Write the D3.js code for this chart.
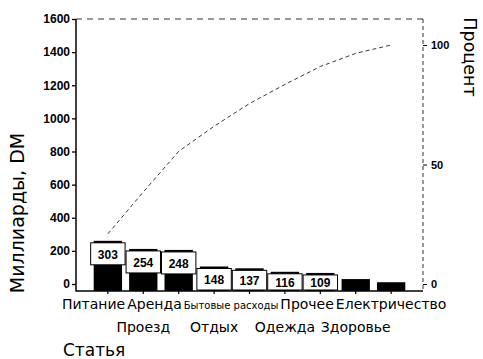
<!DOCTYPE html>
<html><head><meta charset="utf-8">
<script src="https://cdn.jsdelivr.net/npm/d3@7"></script>
<style>body{margin:0;background:#fff} svg{display:block;background:#fff}</style>
</head><body>
<svg id="c" width="483" height="359"></svg>
<script>
// ---- data ----
const categories = ["Питание","Проезд","Аренда","Отдых","Бытовые расходы","Одежда","Прочее","Здоровье","Електричество"];
const values = [303, 254, 248, 148, 137, 116, 109, 72, 53];
const cumPercent = [21, 38.5, 55.5, 66, 75.5, 83.5, 91, 96.5, 100];
const leftTicks = [0, 200, 400, 600, 800, 1000, 1200, 1400, 1600];
const rightTicks = [0, 50, 100];
const yTitle = "Миллиарды, DM";
const y2Title = "Процент";
const xTitle = "Статья";

// ---- layout ----
const svg = d3.select("#c");
const L = 76, R = 423, T = 19, B = 291;
const x = d3.scaleBand().domain(categories).range([L, R]).paddingInner(0).paddingOuter(0.4);
const yAxisScale = d3.scaleLinear().domain([0, 1600]).range([284, T]);
const yBar = d3.scaleLinear().domain([0, 1600]).range([B, B - (284 - T)]);
const yPct = d3.scaleLinear().domain([0, 100]).range([284, 45]);
const cx = c => x(c) + x.bandwidth() / 2;
const numFont = "'Liberation Sans', Arial, sans-serif";
const txtFont = "'DejaVu Sans', sans-serif";

// bars
const bw = x.bandwidth() * 0.8;
svg.append("g").selectAll("rect").data(values).join("rect")
  .attr("x", (d, i) => x(categories[i]) + (x.bandwidth() - bw) / 2)
  .attr("y", d => yBar(d))
  .attr("width", bw)
  .attr("height", d => B - yBar(d))
  .attr("fill", "#000");

// value boxes
const boxH = 22;
const lab = svg.append("g");
values.forEach((v, i) => {
  if (v < 100) return;
  const top = yBar(v) + 2;
  const bot = Math.min(top + boxH, B - 1);
  lab.append("rect")
    .attr("x", x(categories[i]) + 0.5).attr("y", top)
    .attr("width", x.bandwidth() - 1).attr("height", bot - top)
    .attr("fill", "#fff").attr("stroke", "#000").attr("stroke-width", 1);
  lab.append("text")
    .attr("x", cx(categories[i])).attr("y", (top + bot) / 2 + 1)
    .attr("text-anchor", "middle").attr("dominant-baseline", "central")
    .attr("font-family", numFont).attr("font-weight", "bold").attr("font-size", 12)
    .text(v);
});

// cumulative line
svg.append("path")
  .datum(cumPercent)
  .attr("fill", "none").attr("stroke", "#222").attr("stroke-width", 0.9)
  .attr("stroke-dasharray", "4,3")
  .attr("d", d3.line().x((d, i) => cx(categories[i])).y(d => yPct(d)));

// frame
svg.append("line").attr("x1", L).attr("x2", R).attr("y1", T).attr("y2", T)
  .attr("stroke", "#333").attr("stroke-width", 1).attr("stroke-dasharray", "6,5");
svg.append("line").attr("x1", R).attr("x2", R).attr("y1", T).attr("y2", B)
  .attr("stroke", "#333").attr("stroke-width", 1).attr("stroke-dasharray", "4,3");
svg.append("line").attr("x1", L).attr("x2", L).attr("y1", T).attr("y2", B + 0.5)
  .attr("stroke", "#000").attr("stroke-width", 1.5);
svg.append("line").attr("x1", L).attr("x2", R).attr("y1", B).attr("y2", B)
  .attr("stroke", "#000").attr("stroke-width", 1.5);

// left axis
const ga = svg.append("g").attr("transform", `translate(${L},0)`)
  .call(d3.axisLeft(yAxisScale).tickValues(leftTicks).tickFormat(d3.format("d"))
    .tickSize(4).tickSizeOuter(0).tickPadding(2));
ga.select(".domain").remove();
ga.selectAll("line").attr("stroke", "#000").attr("stroke-width", 1.3);
ga.selectAll("text").attr("font-family", numFont).attr("font-weight", "bold").attr("font-size", 12).attr("fill", "#000");

// right axis
const gr = svg.append("g").attr("transform", `translate(${R},0)`)
  .call(d3.axisRight(yPct).tickValues(rightTicks).tickFormat(d3.format("d"))
    .tickSize(4).tickSizeOuter(0).tickPadding(4));
gr.select(".domain").remove();
gr.selectAll("line").attr("stroke", "#000").attr("stroke-width", 1);
gr.selectAll("text").attr("font-family", numFont).attr("font-weight", "bold").attr("font-size", 11).attr("fill", "#000");

// bottom tick marks
svg.append("g").selectAll("line").data(categories).join("line")
  .attr("x1", d => cx(d)).attr("x2", d => cx(d)).attr("y1", B).attr("y2", B + 3)
  .attr("stroke", "#000").attr("stroke-width", 1.2);

// category labels (staggered in two rows)
const catG = svg.append("g");
const catText = catG.selectAll("text").data(categories).join("text")
  .attr("x", d => cx(d))
  .attr("y", (d, i) => i % 2 === 0 ? 309 : 332)
  .attr("text-anchor", "middle")
  .attr("font-family", txtFont)
  .attr("font-size", d => d.includes(" ") ? 10 : 14)
  .attr("fill", "#000")
  .text(d => d);
// resolve overlaps in top row: sweep from right to left
const row1 = catText.filter((d, i) => i % 2 === 0).nodes();
const w = row1.map(n => n.getComputedTextLength());
const c = row1.map(n => +n.getAttribute("x"));
for (let k = row1.length - 2; k >= 0; k--) {
  const maxRight = c[k + 1] - w[k + 1] / 2 - 2;
  if (c[k] + w[k] / 2 > maxRight) c[k] = maxRight - w[k] / 2;
}
row1.forEach((n, k) => n.setAttribute("x", c[k]));

// titles
svg.append("text")
  .attr("transform", `translate(24,${213}) rotate(-90)`)
  .attr("text-anchor", "middle")
  .attr("font-family", txtFont).attr("font-size", 19).attr("fill", "#000")
  .text(yTitle);
svg.append("text")
  .attr("transform", `translate(464,${57}) rotate(90)`)
  .attr("text-anchor", "middle")
  .attr("font-family", txtFont).attr("font-size", 17.5).attr("fill", "#000")
  .text(y2Title);
svg.append("text")
  .attr("x", 63).attr("y", 356)
  .attr("font-family", txtFont).attr("font-size", 17).attr("fill", "#000")
  .text(xTitle);
</script>
</body></html>
